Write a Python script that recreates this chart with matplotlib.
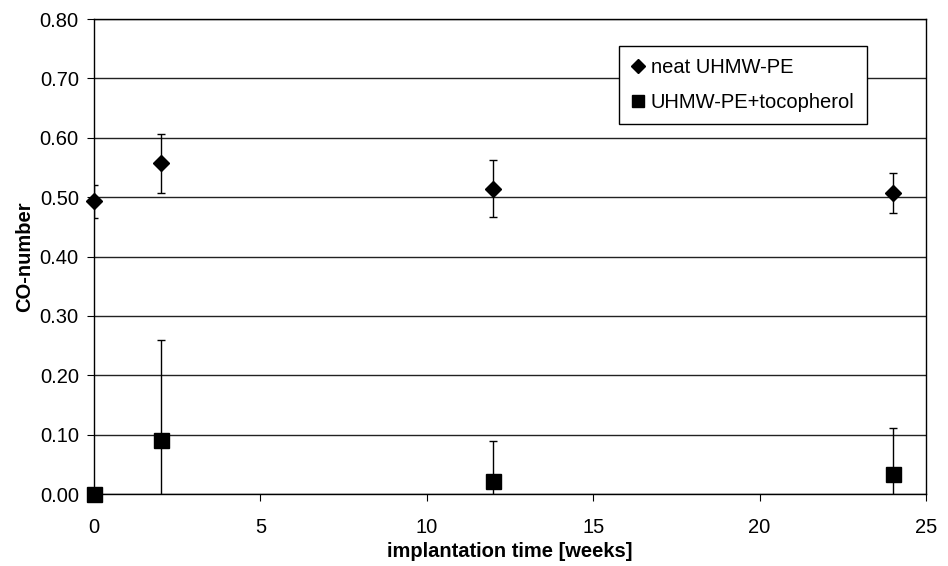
import numpy as np
import matplotlib.pyplot as plt
from matplotlib.ticker import FormatStrFormatter

plt.rcParams['font.family'] = ['Liberation Sans', 'DejaVu Sans']

weeks = [0, 2, 12, 24]
neat = [0.493, 0.557, 0.514, 0.507]
neatErr = [0.028, 0.050, 0.048, 0.034]
toco = [0.000, 0.091, 0.022, 0.034]
tocoErr = [0.000, 0.168, 0.068, 0.077]

fs = 14.5

fig = plt.figure(figsize=(9.48, 5.66), dpi=100)
ax = fig.add_axes([0.0992, 0.1272, 0.8776, 0.8392])

# error bars are clipped at the axes, markers are not
ax.errorbar(weeks, neat, yerr=neatErr, fmt='none', ecolor='black',
            elinewidth=1, capsize=3, capthick=1)
ax.errorbar(weeks, toco, yerr=tocoErr, fmt='none', ecolor='black',
            elinewidth=1, capsize=3, capthick=1)
ax.plot(weeks, neat, 'D', color='black', markersize=8.5, clip_on=False,
        zorder=5, label='neat UHMW-PE')
ax.plot(weeks, toco, 's', color='black', markersize=10.8, clip_on=False,
        zorder=5, label='UHMW-PE+tocopherol')

ax.set_xlim(0, 25)
ax.set_ylim(0, 0.8)
ax.set_xticks(np.arange(0, 26, 5))
ax.set_yticks(np.arange(0, 0.81, 0.1))
ax.yaxis.set_major_formatter(FormatStrFormatter('%.2f'))
ax.yaxis.grid(True, color='#222222', linewidth=1)
ax.set_axisbelow(True)
ax.tick_params(direction='out', length=5, labelsize=fs, color='black')
ax.tick_params(axis='x', pad=12)
ax.tick_params(axis='y', pad=6)
for s in ax.spines.values():
    s.set_linewidth(1)

ax.set_xlabel('implantation time [weeks]', fontsize=fs, fontweight='bold',
              labelpad=4)
ax.set_ylabel('CO-number', fontsize=fs, fontweight='bold', labelpad=4)

leg = ax.legend(loc='upper left', bbox_to_anchor=(0.6306, 0.943),
                borderaxespad=0, fontsize=fs, frameon=True, fancybox=False,
                edgecolor='black', framealpha=1, handlelength=0.7,
                handletextpad=0.3, labelspacing=0.8, borderpad=0.6,
                markerscale=0.82)
leg.get_frame().set_linewidth(1)

plt.savefig('out.png')
